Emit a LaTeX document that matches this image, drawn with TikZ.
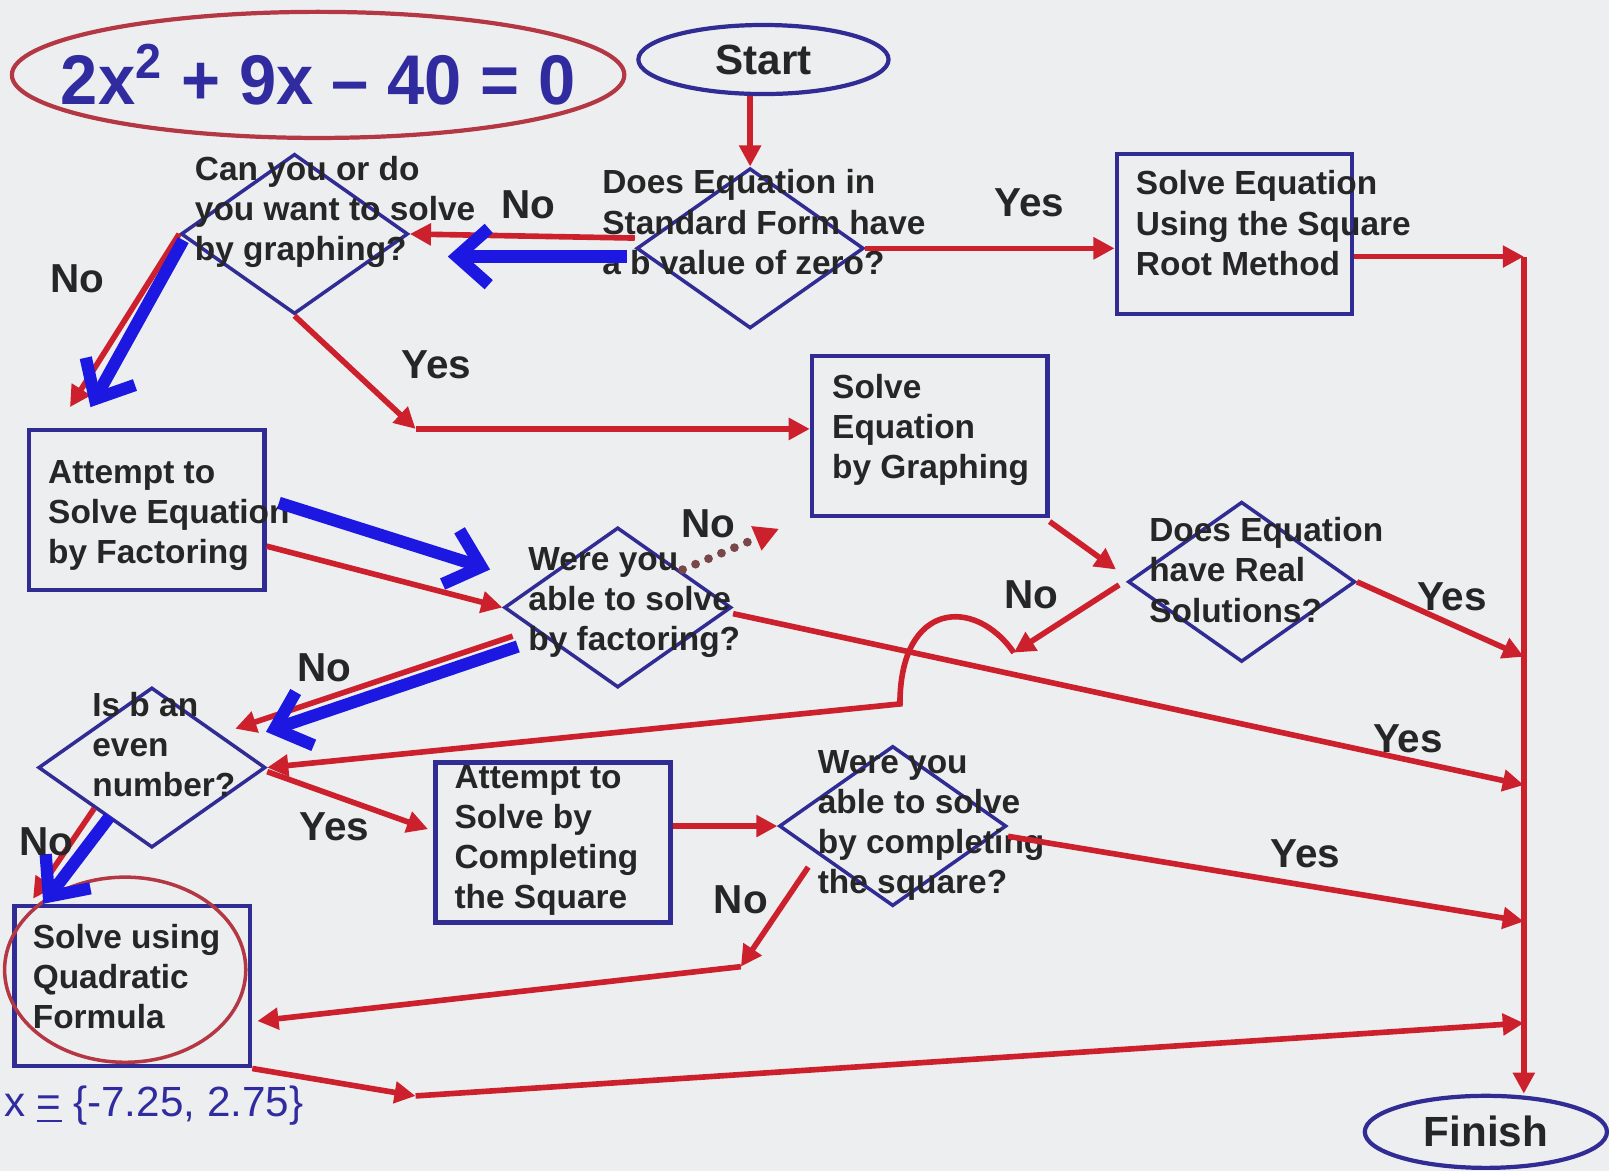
\documentclass[tikz,border=0pt]{standalone}
\usepackage{fontspec}
\setmainfont{Liberation Sans}
\usepackage{graphicx}
\usepackage{tikz}
\usetikzlibrary{shapes.geometric,arrows.meta,calc,positioning}
\definecolor{bgcol}{RGB}{237,238,240}
\definecolor{linered}{RGB}{205,32,45}
\definecolor{boxblue}{RGB}{48,44,148}
\definecolor{pathblue}{RGB}{28,24,225}
\definecolor{ringred}{RGB}{180,55,68}
\definecolor{eqblue}{RGB}{48,44,160}
\definecolor{txtcol}{RGB}{38,38,38}
\definecolor{dotcol}{RGB}{120,72,72}
\newdimen\pxu \pxu=0.010261cm
\newcommand{\ftext}[3]{\smash{\makebox[0pt][l]{\hspace*{#1\pxu}\raisebox{#2\pxu}{\begin{tabular}{@{}l@{}}#3\end{tabular}}}}}

\begin{document}
\begin{tikzpicture}[x=0.010261cm, y=-0.010261cm, semithick,
	redarrow/.style={draw=linered, line width=1.6pt, -{Triangle[length=6pt,width=6pt]}},
	bluearrow/.style={draw=pathblue, line width=3.5pt, -{Straight Barb[length=9pt,width=16pt]}},
	lbl/.style={inner sep=0pt, text=txtcol, font=\fontsize{11.5}{13}\selectfont\bfseries}]
		\tikzstyle{oval}=[ellipse, line width=1.2pt, inner sep=0pt, text=txtcol]
		\tikzstyle{qbox}=[rectangle, draw=boxblue, line width=1.3pt, inner sep=0pt, minimum
		width=2.35cm, minimum height=1.6cm, text=txtcol, font=\fontsize{9.5}{11.4}\selectfont\bfseries]
		\tikzstyle{qdiam}=[diamond, draw=boxblue, line width=1pt, inner sep=0pt, minimum
		width=2.27cm, minimum height=1.6cm, text=txtcol, font=\fontsize{9.5}{11.4}\selectfont\bfseries]
		\fill[bgcol] (0,0) rectangle (1568,1141);
		\useasboundingbox (0,0) rectangle (1568,1141);
		\begin{scope}
			\node[oval, draw=ringred, minimum width=6.12cm, minimum height=1.26cm, text=eqblue,
			font=\fontsize{20}{24}\selectfont\bfseries] (eq) at (310,73)
			{\makebox[0pt]{\scalebox{0.95}[1]{2x\textsuperscript{2} + 9x \textendash{} 40 = 0}}};
			\node[oval, draw=boxblue, minimum width=2.5cm, minimum height=0.69cm,
			font=\fontsize{12}{14}\selectfont\bfseries] (start) at (744,58) {Start};
			\node[qdiam] (d1) at (731,242) {\ftext{-144}{14}{Does Equation in\\Standard Form have\\a b value of zero?}};
			\node[qdiam] (d2) at (287,228) {\ftext{-97}{13}{Can you or do\\you want to solve\\by graphing?}};
			\node[qbox] (sqroot) at (1203,228) {\ftext{-96}{-1}{Solve Equation\\Using the Square\\Root Method}};
			\node[qbox] (graph) at (906,425) {\ftext{-95}{-2}{Solve\\Equation\\by Graphing}};
			\node[qbox] (factor) at (143,497) {\ftext{-96}{-13}{Attempt to\\Solve Equation\\by Factoring}};
			\node[qdiam] (d3) at (602,592) {\ftext{-87}{-3}{Were you\\able to solve\\by factoring?}};
			\node[qdiam] (d4) at (1210,567) {\ftext{-90}{0}{Does Equation\\have Real\\Solutions?}};
			\node[qdiam] (d5) at (148,748) {\ftext{-58}{11}{Is b an\\even\\number?}};
			\node[qbox] (cts) at (539,821) {\ftext{-96}{-5.5}{Attempt to\\Solve by\\Completing\\the Square}};
			\node[qdiam] (d6) at (870,805) {\ftext{-73}{-7}{Were you\\able to solve\\by completing\\the square?}};
			\node[qbox] (quad) at (129,961) {\ftext{-97}{-2}{Solve using\\Quadratic\\Formula}};
			\node[oval, draw=ringred, line width=1pt, minimum width=2.41cm, minimum height=1.85cm] (qring) at (122,945) {};
			\node[oval, draw=boxblue, minimum width=2.42cm, minimum height=0.72cm,
			font=\fontsize{12}{14}\selectfont\bfseries] (finish) at (1448,1103) {Finish};
			\node[anchor=west, inner sep=0pt, text=eqblue, font=\fontsize{12}{14}\selectfont]
			(ans) at (3,1077) {x \underline{=} \{-7.25, 2.75\}};

			\coordinate (t1) at (1485,250); \coordinate (t2) at (1485,640);
			\coordinate (t3) at (1485,765); \coordinate (t4) at (1485,898);
			\coordinate (t5) at (1485,997); \coordinate (c2) at (405,418);
			\coordinate (c6) at (722,942); \coordinate (c7) at (405,1068);
			\coordinate (nj) at (988,636); \coordinate (bend) at (877,686);

			\draw[redarrow] (start.south -| d1.north) -- (d1.north);
			\draw[redarrow] (d1.east) -- (d1.east -| sqroot.west);
			\draw[redarrow] ($(d1.west)+(0,-10)$) -- (d2.east);
			\draw[bluearrow] ($(d1.west)+(-8,8)$) -- ($(d2.east)+(37,22)$);
			\draw[redarrow] (d2.west) -- ($(factor.north west)+(42,-20)$);
			\draw[bluearrow] ($(d2.west)+(4,6)$) -- ($(factor.north west)+(62,-20)$);
			\draw[redarrow] (d2.south) -- (c2); \draw[redarrow] (c2) -- (c2 -| graph.west);
			\draw[redarrow] (sqroot.east |- t1) -- (t1); \draw[redarrow] (t1) -- (t1 |- finish.north);
			\draw[redarrow] ($(graph.south east)+(0,3)$) -- ($(d4.west)+(-10,-12)$);
			\draw[redarrow] (d4.east) -- (t2);
			\draw[redarrow] ($(d4.west)+(-7,3)$) -- (nj);
			\draw[redarrow] (nj) .. controls +(-38,-55) and +(0,-100) .. (bend) -- (d5.east);
			\draw[redarrow] ($(factor.south east)+(0,-45)$) -- (d3.west);
			\draw[bluearrow] ($(factor.east)+(12,-7)$) -- ($(d3.west)+(-12,-37)$);
			\draw[draw=dotcol, line width=2.5pt, line cap=round, dash pattern=on 0pt off 4pt,
			-{Triangle[length=7pt,width=7pt,color=linered]}] ($(d3.north east)+(7,3)$) -- ($(graph.south west)+(-30,10)$);
			\draw[redarrow] ($(d3.east)+(0,6)$) -- (t3);
			\draw[redarrow] ($(d3.west)+(10,28)$) -- ($(d5.north east)+(25,2)$);
			\draw[bluearrow] ($(d3.west)+(15,38)$) -- ($(d5.north east)+(55,5)$);
			\draw[redarrow] ($(d5.east)+(0,4)$) -- ($(cts.west)+(-5,-13)$);
			\draw[redarrow] (d5.south west) -- ($(quad.north west)+(20,-5)$);
			\draw[bluearrow] ($(d5.south west)+(15,8)$) -- ($(quad.north west)+(30,0)$);
			\draw[redarrow] (cts.east |- d6.west) -- (d6.west);
			\draw[redarrow] ($(d6.east)+(0,10)$) -- (t4);
			\draw[redarrow] ($(d6.west)+(30,40)$) -- (c6); \draw[redarrow] (c6) -- ($(quad.east)+(5,34)$);
			\draw[redarrow] (quad.south east) -- (c7); \draw[redarrow] (c7) -- (t5);

			\node[lbl] (y1) at (1003,198) {Yes}; \node[lbl] (n1) at (515,200) {No};
			\node[lbl] (n2) at (75,272) {No}; \node[lbl] (y2) at (425,355) {Yes};
			\node[lbl] (n3) at (690,510) {No}; \node[lbl] (n3b) at (316,651) {No};
			\node[lbl] (y3) at (1372,720) {Yes}; \node[lbl] (n4) at (1005,580) {No};
			\node[lbl] (y4) at (1415,582) {Yes}; \node[lbl] (n5) at (45,820) {No};
			\node[lbl] (y5) at (326,806) {Yes}; \node[lbl] (n6) at (722,877) {No};
			\node[lbl] (y6) at (1272,832) {Yes};
		\end{scope}
	\end{tikzpicture}
\end{document}
